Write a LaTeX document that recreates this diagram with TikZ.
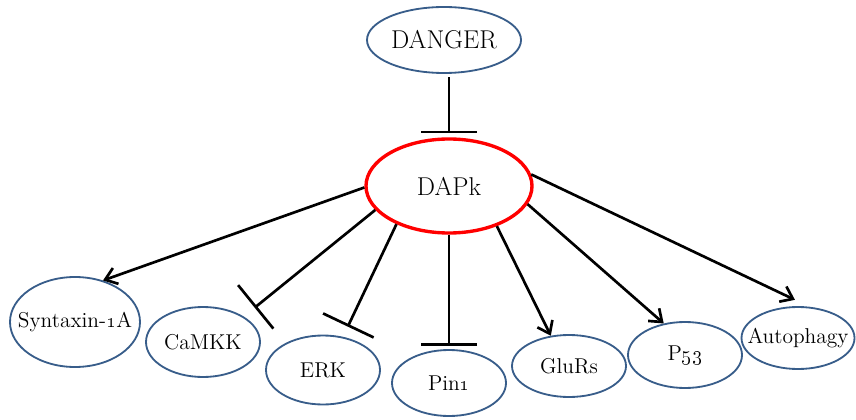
\documentclass[tikz,border=0pt]{standalone}
\usepackage{tikz}
\usetikzlibrary{arrows.meta, shapes.geometric}
\definecolor{nodeblue}{RGB}{56,93,138}
\newcommand{\plabel}[1]{\makebox[0pt]{\scalebox{1.06}{#1}}}

\begin{document}
\begin{tikzpicture}[
    protein/.style={draw=nodeblue, line width=1.3pt, ellipse, inner sep=0pt,
        minimum width=2.85cm, minimum height=1.7cm, font=\fontsize{14.4}{16}\selectfont},
    activ/.style={-{Straight Barb[length=2.8mm,width=4.2mm]}, line width=1.9pt},
    inhib/.style={-{Bar[width=1.4cm]}, line width=1.9pt}
]
    \useasboundingbox (0,0) rectangle (21.4,10.475);

    % top
    \node[protein, minimum width=3.85cm, minimum height=1.65cm,
        font=\fontsize{17.28}{19}\selectfont] (danger) at (11.1,9.475) {\plabel{DANGER}};
    \node[protein, draw=red, line width=2.4pt, minimum width=4.15cm, minimum height=2.35cm,
        font=\fontsize{17.28}{19}\selectfont] (dapk) at (11.225,5.825) {\plabel{DAPk}};

    % targets
    \node[protein, minimum width=3.25cm, minimum height=2.25cm] (syn) at (1.875,2.425) {\plabel{Syntaxin-\oldstylenums{1}A}};
    \node[protein, minimum height=1.75cm] (camkk) at (5.075,1.925) {\plabel{CaMKK}};
    \node[protein, minimum height=1.725cm] (erk) at (8.075,1.225) {\plabel{ERK}};
    \node[protein, minimum height=1.65cm] (pin) at (11.225,0.9) {\plabel{Pin\oldstylenums{1}}};
    \node[protein, minimum height=1.55cm] (glurs) at (14.225,1.325) {\plabel{GluRs}};
    \node[protein, minimum height=1.65cm] (p53) at (17.125,1.6) {\plabel{P\oldstylenums{53}}};
    \node[protein, minimum width=2.825cm, minimum height=1.55cm] (auto) at (19.95,2.025) {\plabel{Autophagy}};

    % connectors
    \draw[inhib, shorten <=0.08cm, shorten >=0.1cm] (danger.south -| dapk.north) -- (dapk.north);
    \draw[activ] (dapk.181) -- (syn.56);
    \draw[inhib, shorten >=0.35cm] (dapk.198) -- (camkk.32);
    \draw[inhib, shorten >=0.28cm] (dapk.216) -- (erk.59);
    \draw[inhib, shorten >=0.08cm] (dapk.south) -- (pin.north);
    \draw[activ] (dapk.320) -- (glurs.121);
    \draw[activ] (dapk.347) -- (p53.124);
    \draw[activ, shorten >=0.4cm] (dapk.8) -- (auto.70);
\end{tikzpicture}
\end{document}
